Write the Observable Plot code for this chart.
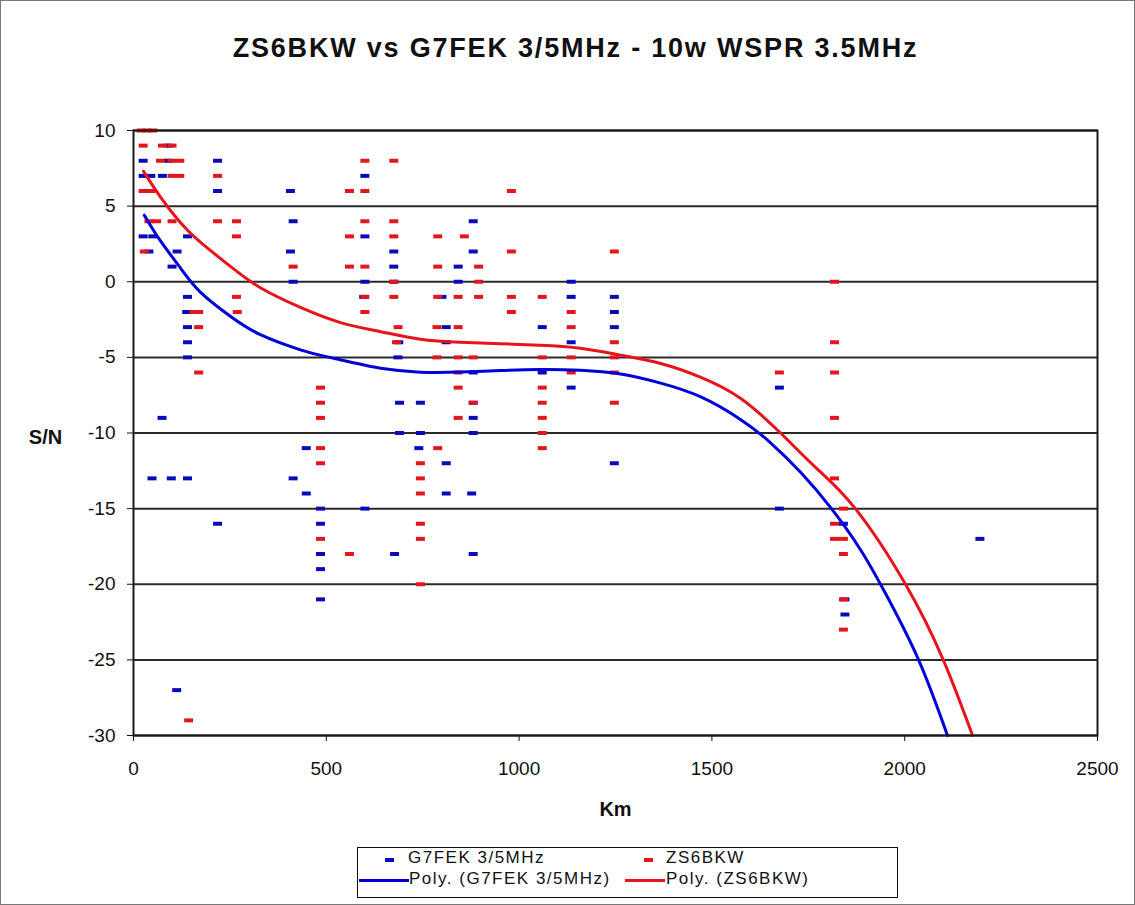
<!DOCTYPE html>
<html>
<head>
<meta charset="utf-8">
<script src="https://cdn.jsdelivr.net/npm/d3@7"></script>
<script src="https://cdn.jsdelivr.net/npm/@observablehq/plot@0.6"></script>
<style>
  html, body { margin: 0; padding: 0; background: #fff; }
  #chart { position: relative; width: 1135px; height: 905px; box-sizing: border-box; border: 1px solid #777; font-family: "Liberation Sans", Arial, sans-serif; background: #fff; }
  #title { height: 94px; box-sizing: border-box; padding-left: 16px; display: flex; align-items: center; justify-content: center; font-weight: bold; font-size: 27px; letter-spacing: 1.8px; color: #111; }
  #legend { position: absolute; left: 356px; top: 846px; width: 541px; height: 51px; box-sizing: border-box; border: 1.5px solid #111; font-size: 17px; letter-spacing: 1.5px; color: #111; }
  .sw { position: absolute; }
  .tx { position: absolute; white-space: nowrap; line-height: 18px; }
</style>
</head>
<body>
<div id="chart">
  <div id="title">ZS6BKW vs G7FEK 3/5MHz - 10w WSPR 3.5MHz</div>
  <div id="plot"></div>
  <div id="legend"></div>
</div>
<script>
// Series names
const seriesNames = ["G7FEK 3/5MHz", "ZS6BKW"];
const trendNames = ["Poly. (G7FEK 3/5MHz)", "Poly. (ZS6BKW)"];

// G7FEK 3/5MHz observations: [km, S/N]
const g7fekPoints = [
  [25,8],[90,9],[90,8],[25,7],[45,7],[75,7],[218,8],[218,6],[407,6],[414,4],
  [25,3],[50,3],[140,3],[40,2],[113,2],[407,2],[100,1],[414,0],[140,-1],[138,-2],
  [140,-3],[140,-4],[140,-5],[74,-9],[448,-11],[48,-13],[98,-13],[140,-13],[414,-13],[448,-14],
  [218,-16],[485,-21],[112,-27],[485,-15],[485,-16],[485,-18],[485,-19],
  [600,7],[600,3],[600,0],[597,-1],[600,-15],
  [675,2],[675,1],[675,0],[688,-4],[686,-5],[690,-8],[690,-10],[677,-18],
  [740,-11],[744,-8],[744,-10],
  [800,-1],[811,-3],[811,-4],[811,-12],[811,-14],
  [842,1],[842,0],
  [881,4],[881,2],[881,-6],[881,-8],[881,-9],[881,-10],[877,-14],[881,-18],
  [1060,-3],[1060,-6],[1135,0],[1135,-1],[1135,-4],[1135,-7],
  [1247,-1],[1247,-2],[1247,-3],[1247,-12],
  [1675,-7],[1675,-15],[1841,-16],[1845,-22],[1845,-21],[2195,-17]
];

// ZS6BKW observations: [km, S/N]
const zs6bkwPoints = [
  [20,10],[35,10],[50,10],[25,9],[75,9],[100,9],[70,8],[100,8],[120,8],[100,7],[120,7],
  [218,7],[25,6],[45,6],[40,4],[60,4],[100,4],[218,4],[267,4],[267,3],[28,2],[414,1],
  [267,-1],[157,-2],[169,-2],[269,-2],[169,-3],[169,-6],
  [600,8],[600,6],[600,4],[600,1],[600,-1],[600,-2],
  [560,6],[560,3],[560,1],[560,-18],
  [675,8],[675,4],[675,3],[675,-1],[682,-4],[686,-3],[675,0],
  [789,3],[789,1],[789,-1],[787,-3],[787,-5],[789,-11],
  [842,-1],[842,-3],[842,-5],[842,-6],[842,-7],[842,-9],
  [858,3],[895,1],[895,0],[895,-1],[881,-5],[881,-8],
  [485,-7],[485,-8],[485,-9],[485,-11],[485,-12],[485,-17],
  [744,-12],[744,-13],[744,-14],[744,-16],[744,-17],[744,-20],
  [143,-29],
  [980,6],[980,2],[980,-1],[980,-2],
  [1060,-1],[1060,-5],[1060,-7],[1060,-8],[1060,-9],[1060,-10],[1060,-11],
  [1135,-2],[1135,-3],[1135,-5],[1135,-6],
  [1247,2],[1247,-4],[1247,-5],[1247,-6],[1247,-8],
  [1675,-6],[1818,0],[1818,-4],[1818,-6],[1818,-9],[1818,-13],[1818,-16],[1818,-17],
  [1841,-15],[1841,-17],[1841,-18],[1841,-21],[1841,-23]
];

// Polynomial trend lines: [km, S/N]
const g7fekTrend = [
  [28,4.4],[70,2.7],[122,0.9],[174,-0.7],[252,-2.3],[329,-3.5],[433,-4.5],[500,-4.95],
  [570,-5.35],[641,-5.72],[744,-5.98],[848,-5.97],[952,-5.87],[1055,-5.8],[1159,-5.85],
  [1263,-6.1],[1367,-6.7],[1470,-7.6],[1574,-9.1],[1650,-10.6],[1730,-12.6],[1810,-15.0],
  [1885,-17.7],[1950,-20.6],[2036,-25],[2111,-30]
];
const zs6bkwTrend = [
  [26,7.3],[70,5.6],[122,3.9],[174,2.6],[252,1.0],[329,-0.4],[433,-1.7],[537,-2.7],
  [641,-3.3],[744,-3.8],[848,-4.0],[952,-4.1],[1055,-4.2],[1159,-4.4],[1263,-4.85],
  [1367,-5.4],[1470,-6.3],[1574,-7.7],[1678,-10],[1770,-12.3],[1872,-15],
  [2002,-20],[2100,-25],[2176,-30]
];

const xTicks = [0, 500, 1000, 1500, 2000, 2500];
const yTicks = [10, 5, 0, -5, -10, -15, -20, -25, -30];

const blueDot = "#0a0ab8";
const redDot = "#e3161e";
const blueLine = "#0000d8";
const redLine = "#e8141c";

const dashSymbol = { draw(ctx) { ctx.rect(-4.5, -2, 9, 4); } };

const plot = Plot.plot({
  width: 1133,
  height: 745,
  marginTop: 35,
  marginBottom: 105,
  marginLeft: 132,
  marginRight: 37,
  style: { fontFamily: "'Liberation Sans', Arial, sans-serif", fontSize: "19px", color: "#111", background: "#fff", overflow: "visible" },
  x: { domain: [0, 2500], ticks: xTicks },
  y: { domain: [-30, 10], ticks: yTicks },
  marks: [
    Plot.gridY(yTicks, { stroke: "#2a2a2a", strokeOpacity: 1, strokeWidth: 2 }),
    Plot.axisX(xTicks, { tickSize: 6, tickPadding: 20, label: null, stroke: "#111", tickFormat: d => String(d) }),
    Plot.axisY(yTicks, { tickSize: 6, tickPadding: 12, label: null, stroke: "#111", tickFormat: d => String(d) }),
    Plot.dot(g7fekPoints, { x: d => d[0], y: d => d[1], symbol: dashSymbol, fill: blueDot, stroke: null }),
    Plot.dot(zs6bkwPoints, { x: d => d[0], y: d => d[1], symbol: dashSymbol, fill: redDot, stroke: null }),
    Plot.line(g7fekTrend, { x: d => d[0], y: d => d[1], stroke: blueLine, strokeWidth: 3, curve: "natural" }),
    Plot.line(zs6bkwTrend, { x: d => d[0], y: d => d[1], stroke: redLine, strokeWidth: 3, curve: "natural" }),
    Plot.frame({ stroke: "#1a1a1a", strokeWidth: 2 }),
    Plot.text(["Km"], { frameAnchor: "bottom", dy: 80, fontWeight: "bold", fontSize: 20 }),
    Plot.text(["S/N"], { frameAnchor: "left", textAnchor: "middle", dx: -88, dy: 5, fontWeight: "bold", fontSize: 20 })
  ]
});
document.getElementById("plot").appendChild(plot);

// Legend (positions relative to the legend box)
const legend = document.getElementById("legend");
const items = [
  { sx: 27, sw: 9, sh: 4, sy: 10, tx: 50, ty: 1, color: blueDot, text: seriesNames[0] },
  { sx: 286, sw: 9, sh: 4, sy: 10, tx: 308, ty: 1, color: redDot, text: seriesNames[1] },
  { sx: 1, sw: 50, sh: 3, sy: 31, tx: 51, ty: 22, color: blueLine, text: trendNames[0] },
  { sx: 267, sw: 40, sh: 3, sy: 31, tx: 308, ty: 22, color: redLine, text: trendNames[1] }
];
for (const it of items) {
  const s = document.createElement("div");
  s.className = "sw";
  Object.assign(s.style, { left: it.sx + "px", top: it.sy + "px", width: it.sw + "px", height: it.sh + "px", background: it.color });
  const t = document.createElement("div");
  t.className = "tx";
  Object.assign(t.style, { left: it.tx + "px", top: it.ty + "px" });
  t.textContent = it.text;
  legend.appendChild(s);
  legend.appendChild(t);
}
</script>
</body>
</html>
